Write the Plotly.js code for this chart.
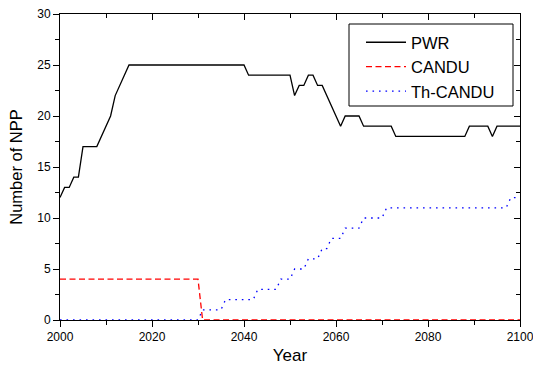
<!DOCTYPE html>
<html>
<head>
<meta charset="utf-8">
<script src="https://cdn.plot.ly/plotly-3.0.1.min.js"></script>
<style>html,body{margin:0;padding:0;background:#fff;}#chart{width:533px;height:365px;}</style>
</head>
<body>
<div id="chart"></div>
<script>
// Data (breakpoints of each piecewise-linear series)
var pwrYears = [2000,2001,2002,2003,2004,2005,2008,2011,2012,2015,2040,2041,2050,2051,2052,2053,2054,2055,2056,2057,2061,2062,2065,2066,2072,2073,2088,2089,2093,2094,2095,2100];
var pwrValues = [12,13,13,14,14,17,17,20,22,25,25,24,24,22,23,23,24,24,23,23,19,20,20,19,19,18,18,19,19,18,19,19];

var canduYears = [2000,2030,2031,2100];
var canduValues = [4,4,0,0];

var thYears = [2000,2030,2031,2035,2036,2042,2043,2047,2048,2050,2051,2053,2054,2056,2057,2058,2059,2061,2062,2065,2066,2070,2071,2097,2098,2100];
var thValues = [0,0,1,1,2,2,3,3,4,4,5,5,6,6,7,7,8,8,9,9,10,10,11,11,12,12];

var seriesNames = ['PWR','CANDU','Th-CANDU'];
var xTickVals = [2000,2020,2040,2060,2080,2100];
var yTickVals = [0,5,10,15,20,25,30];

var FONT = '"Liberation Sans", Arial, sans-serif';

var traces = [
  {x: pwrYears, y: pwrValues, name: seriesNames[0], mode: 'lines', type: 'scatter',
   line: {color: '#000000', width: 1.3}},
  {x: canduYears, y: canduValues, name: seriesNames[1], mode: 'lines', type: 'scatter',
   line: {color: '#ff0000', width: 1.3, dash: '6px,3.5px'}},
  {x: thYears, y: thValues, name: seriesNames[2], mode: 'lines', type: 'scatter',
   line: {color: '#0000ff', width: 1.3, dash: '1.6px,4.9px'}},
  {x: [], y: [], xaxis: 'x2', yaxis: 'y2', showlegend: false, hoverinfo: 'skip', type: 'scatter', mode: 'lines'}
];

var layout = {
  width: 533, height: 365,
  margin: {l: 60, r: 13, t: 14, b: 45, pad: 0},
  paper_bgcolor: '#ffffff', plot_bgcolor: '#ffffff',
  font: {family: FONT, size: 12, color: '#000000'},
  showlegend: true,
  legend: {
    x: (361-60)/460, y: (320-25)/306, xanchor: 'left', yanchor: 'top',
    bgcolor: 'rgba(0,0,0,0)', borderwidth: 0, itemwidth: 40,
    font: {family: FONT, size: 16.5, color: '#000000'},
    tracegroupgap: 0
  },
  shapes: [
    {type: 'rect', xref: 'paper', yref: 'paper',
     x0: (349-60)/460, x1: (513-60)/460, y0: (320-106)/306, y1: (320-24)/306,
     line: {color: '#000000', width: 1}, fillcolor: 'rgba(0,0,0,0)'}
  ],
  xaxis: {
    range: [2000, 2100], tickvals: xTickVals, ticktext: xTickVals.map(String),
    ticks: 'outside', ticklen: 6, tickwidth: 1, tickcolor: '#000',
    minor: {dtick: 10, tick0: 2000, ticks: 'outside', ticklen: 4, tickwidth: 1, tickcolor: '#000', showgrid: false},
    showline: true, linecolor: '#000', linewidth: 1, showgrid: false, zeroline: false,
    tickfont: {family: FONT, size: 12, color: '#000'}, ticklabeloverflow: 'allow',
    title: {text: 'Year', font: {family: FONT, size: 17, color: '#000'}, standoff: 11},
    layer: 'below traces', fixedrange: true
  },
  yaxis: {
    range: [0, 30], tickvals: yTickVals, ticktext: yTickVals.map(String),
    ticks: 'outside', ticklen: 6, tickwidth: 1, tickcolor: '#000',
    minor: {dtick: 2.5, tick0: 0, ticks: 'outside', ticklen: 4, tickwidth: 1, tickcolor: '#000', showgrid: false},
    showline: true, linecolor: '#000', linewidth: 1, showgrid: false, zeroline: false,
    tickfont: {family: FONT, size: 12, color: '#000'}, ticklabeloverflow: 'allow',
    title: {text: 'Number of NPP', font: {family: FONT, size: 16.5, color: '#000'}, standoff: 10},
    layer: 'below traces', fixedrange: true
  },
  xaxis2: {
    overlaying: 'x', side: 'top', anchor: 'y2', range: [2000, 2100],
    tickvals: xTickVals, showticklabels: false,
    ticks: 'inside', ticklen: 6, tickwidth: 1, tickcolor: '#000',
    minor: {dtick: 10, tick0: 2000, ticks: 'inside', ticklen: 4, tickwidth: 1, tickcolor: '#000', showgrid: false},
    showline: true, linecolor: '#000', linewidth: 1, showgrid: false, zeroline: false, fixedrange: true
  },
  yaxis2: {
    overlaying: 'y', side: 'right', anchor: 'x2', range: [0, 30],
    tickvals: yTickVals, showticklabels: false,
    ticks: 'inside', ticklen: 6, tickwidth: 1, tickcolor: '#000',
    minor: {dtick: 2.5, tick0: 0, ticks: 'inside', ticklen: 4, tickwidth: 1, tickcolor: '#000', showgrid: false},
    showline: true, linecolor: '#000', linewidth: 1, showgrid: false, zeroline: false, fixedrange: true
  }
};

Plotly.newPlot('chart', traces, layout, {displayModeBar: false, staticPlot: true});
</script>
</body>
</html>
